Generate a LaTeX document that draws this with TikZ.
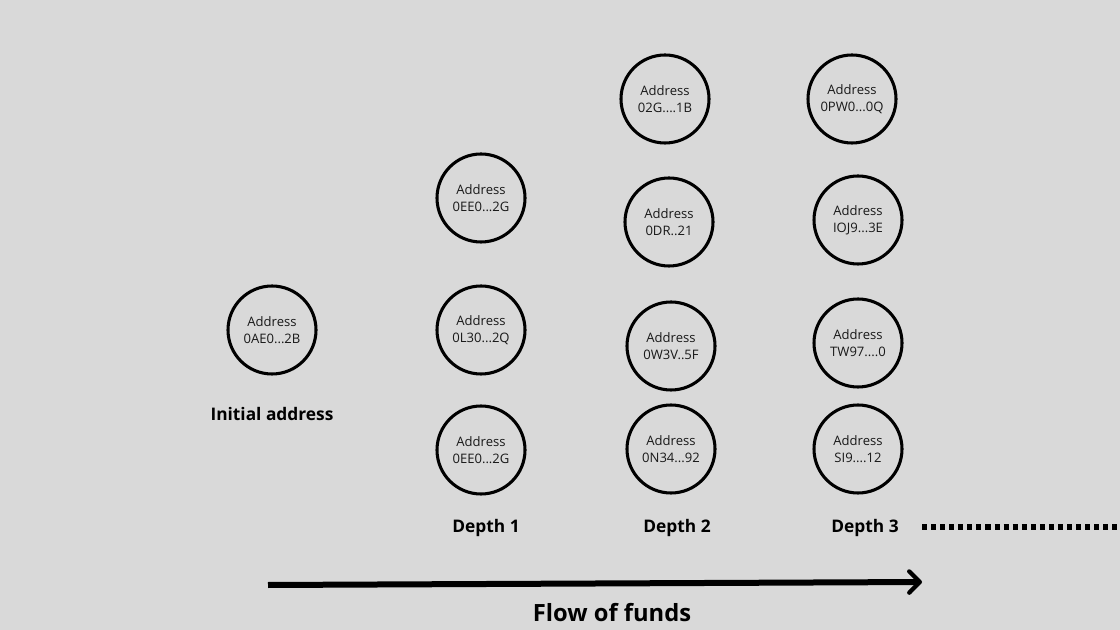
\documentclass[tikz,border=0pt]{standalone}
\usepackage{fontspec}
\setmainfont{Open Sans}
\usetikzlibrary{arrows.meta}
\definecolor{bg}{HTML}{D9D9D9}
\tikzset{
  addr/.style={circle, draw=black, line width=2.3pt, minimum size=66pt, inner sep=0pt,
    align=center, font=\fontsize{9.8}{12.5}\selectfont, text=black!90},
  lbl/.style={font=\fontsize{13}{15}\selectfont\bfseries, text=black},
  flow/.style={line width=4.5pt, -{Straight Barb[length=8pt,width=16pt,line width=3.2pt,line cap=round,round]}},
  dots/.style={line width=4pt, dash pattern=on 3.8pt off 3pt}
}
\begin{document}
\begin{tikzpicture}[x=0.75pt,y=-0.75pt]
\fill[bg] (0,0) rectangle (1120,630);
\useasboundingbox (0,0) rectangle (1120,630);
% initial
\node[addr] (a0) at (272,330) {Address\\0AE0...2B};
\node[lbl] (l0) at (272,414) {Initial address};
% depth 1
\node[addr] (d11) at (481,198) {Address\\0EE0...2G};
\node[addr] (d12) at (481,330) {Address\\0L30...2Q};
\node[addr] (d13) at (481,450) {Address\\0EE0...2G};
% depth 2
\node[addr] (d21) at (665,99) {Address\\02G....1B};
\node[addr] (d22) at (669,222) {Address\\ 0DR..21};
\node[addr] (d23) at (671,346) {Address\\0W3V..5F};
\node[addr] (d24) at (671,449) {Address\\0N34...92};
% depth 3
\node[addr] (d31) at (852,99) {Address\\0PW0...0Q};
\node[addr] (d32) at (858,220) {Address\\ IOJ9...3E};
\node[addr] (d33) at (858,343) {Address\\TW97....0};
\node[addr] (d34) at (858,449) {Address\\ SI9....12};
% depth labels
\node[lbl] (l1) at (486,528) {Depth 1};
\node[lbl] (l2) at (677,528) {Depth 2};
\node[lbl] (l3) at (865,528) {Depth 3};
% dotted continuation
\coordinate (ds) at (922,527);
\coordinate (de) at (1122,527);
\draw[dots] (ds) -- (de);
% flow arrow
\coordinate (fs) at (268,585);
\coordinate (fe) at (922,582);
\draw[flow] (fs) -- (fe);
\node[lbl, font=\fontsize{17.8}{20}\selectfont\bfseries] (ff) at (612,613) {Flow of funds};
\end{tikzpicture}
\end{document}
